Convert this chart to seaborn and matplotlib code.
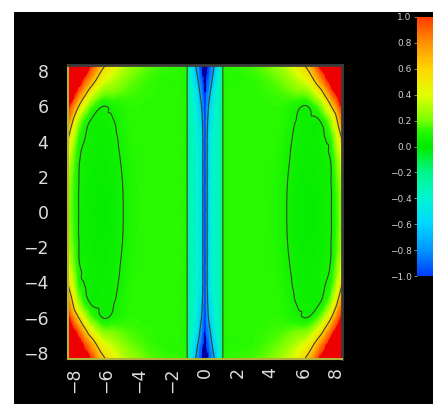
import numpy as np
import matplotlib
matplotlib.use("Agg")
import matplotlib.pyplot as plt
import matplotlib.tri as mtri
from matplotlib.colors import LinearSegmentedColormap, Normalize
from matplotlib.cm import ScalarMappable
from matplotlib.patches import Rectangle
from matplotlib.ticker import MultipleLocator
import seaborn as sns

# Sample nodes of the upper-right quadrant; the field is mirror-symmetric in x and y
x_nodes = [0.0, 0.12, 0.3, 0.55, 0.8, 1.0, 1.1, 1.5, 2.5, 3.5, 4.5, 5.0, 5.5, 6.3, 7.0, 7.35, 7.7, 8.35]
y_nodes = [0.0, 1.5, 3.0, 4.2, 5.2, 6.0, 6.8, 7.5, 8.35]

# Field values, one row per y node (columns follow x_nodes)
field_y0_0 = [-0.95, -0.72, -0.48, -0.38, -0.33, -0.30, 0.10, 0.12, 0.12, 0.12, 0.093, 0.059, 0.035, 0.020, 0.029, 0.042, 0.060, 0.25]
field_y1_5 = [-0.95, -0.72, -0.48, -0.38, -0.33, -0.30, 0.10, 0.12, 0.12, 0.12, 0.096, 0.061, 0.038, 0.023, 0.032, 0.045, 0.062, 0.28]
field_y3_0 = [-0.95, -0.72, -0.48, -0.38, -0.33, -0.30, 0.10, 0.12, 0.12, 0.12, 0.103, 0.069, 0.046, 0.030, 0.040, 0.054, 0.075, 0.40]
field_y4_2 = [-0.95, -0.72, -0.50, -0.39, -0.33, -0.30, 0.10, 0.12, 0.12, 0.12, 0.113, 0.079, 0.052, 0.040, 0.050, 0.064, 0.130, 0.62]
field_y5_2 = [-0.96, -0.76, -0.55, -0.41, -0.34, -0.30, 0.10, 0.12, 0.12, 0.12, 0.120, 0.095, 0.062, 0.048, 0.062, 0.130, 0.300, 0.88]
field_y6_0 = [-0.98, -0.80, -0.62, -0.44, -0.35, -0.30, 0.10, 0.12, 0.12, 0.12, 0.125, 0.110, 0.085, 0.064, 0.200, 0.380, 0.600, 1.08]
field_y6_8 = [-1.00, -0.88, -0.72, -0.49, -0.37, -0.31, 0.10, 0.12, 0.12, 0.13, 0.150, 0.170, 0.200, 0.250, 0.500, 0.700, 0.920, 1.28]
field_y7_5 = [-1.08, -0.96, -0.82, -0.60, -0.42, -0.32, 0.10, 0.11, 0.12, 0.14, 0.190, 0.240, 0.310, 0.460, 0.780, 0.960, 1.150, 1.45]
field_y8_35 = [-1.20, -1.08, -0.92, -0.72, -0.49, -0.33, 0.12, 0.13, 0.14, 0.18, 0.270, 0.340, 0.450, 0.680, 1.050, 1.200, 1.350, 1.60]

contour_levels = [-0.7, 0.06, 0.6]
axis_ticks = [-8, -6, -4, -2, 0, 2, 4, 6, 8]
cbar_ticks = [-1.0, -0.8, -0.6, -0.4, -0.2, 0.0, 0.2, 0.4, 0.6, 0.8, 1.0]

# Rainbow scale: blue (-1) -> cyan -> green (0) -> yellow -> orange-red (+1)
cmap_stops = [
    (0.00, "#003cff"), (0.10, "#0096ff"), (0.20, "#00d7ff"), (0.30, "#00f5d2"),
    (0.40, "#00f58c"), (0.47, "#00f028"), (0.50, "#00eb00"), (0.56, "#28fa00"),
    (0.60, "#78ff00"), (0.70, "#e1ff00"), (0.80, "#ffd700"), (0.90, "#ff9100"),
    (1.00, "#ff3c00"),
]

sns.set_theme(style="dark", rc={"axes.facecolor": "black", "figure.facecolor": "white"})
plt.rcParams["font.family"] = ["DejaVu Sans"]

cmap = LinearSegmentedColormap.from_list("field", cmap_stops)
cmap.set_over("#f00000")
cmap.set_under("#0000a0")
norm = Normalize(vmin=-1.0, vmax=1.0)

# Assemble the full grid by mirroring the quadrant
xq = np.array(x_nodes)
yq = np.array(y_nodes)
zq = np.array([field_y0_0, field_y1_5, field_y3_0, field_y4_2, field_y5_2,
               field_y6_0, field_y6_8, field_y7_5, field_y8_35])
xs = np.concatenate([-xq[:0:-1], xq])
ys = np.concatenate([-yq[:0:-1], yq])
zx = np.hstack([zq[:, :0:-1], zq])
zf = np.vstack([zx[:0:-1], zx])
mid = len(xq) - 1          # column of x = 0
edge = x_nodes.index(1.0)  # strip edge offset from the centre column


def grid_triangulation(xv, yv):
    X, Y = np.meshgrid(xv, yv)
    nx, ny = len(xv), len(yv)
    cells = (np.arange(ny - 1)[:, None] * nx + np.arange(nx - 1)[None, :]).ravel()
    triangles = np.vstack([
        np.column_stack([cells, cells + 1, cells + nx + 1]),
        np.column_stack([cells, cells + nx + 1, cells + nx]),
    ])
    return mtri.Triangulation(X.ravel(), Y.ravel(), triangles)


def draw_block(ax, c0, c1, smooth):
    """Shade and contour the grid columns c0..c1 (inclusive)."""
    tri = grid_triangulation(xs[c0:c1 + 1], ys)
    z = zf[:, c0:c1 + 1].ravel()
    if smooth:
        interp = mtri.CubicTriInterpolator(tri, z, kind="geom")
        tri, z = mtri.UniformTriRefiner(tri).refine_field(z, triinterpolator=interp, subdiv=4)
    ax.tripcolor(tri, z, shading="gouraud", cmap=cmap, norm=norm)
    ax.tricontour(tri, z, levels=contour_levels, colors="#35482a",
                  linewidths=0.8, linestyles="solid")


fig = plt.figure(figsize=(4.33, 4.04), dpi=100)
fig.patch.set_facecolor("white")
fig.add_artist(Rectangle((14 / 433, 0), 1.0, 1 - 12 / 404, transform=fig.transFigure,
                         facecolor="black", edgecolor="none", zorder=-10))

ax = fig.add_axes([68 / 433, 1 - 359 / 404, 274 / 433, 294 / 404])
ax.set_facecolor("black")

# outer side regions, the thin strip edges and the central channel
draw_block(ax, 0, mid - edge - 1, True)
draw_block(ax, mid - edge - 1, mid - edge, False)
draw_block(ax, mid - edge, mid + edge, True)
draw_block(ax, mid + edge, mid + edge + 1, False)
draw_block(ax, mid + edge + 1, len(xs) - 1, True)

ax.set_xlim(-8.35, 8.35)
ax.set_ylim(-8.35, 8.35)
ax.set_xticks(axis_ticks)
ax.set_yticks(axis_ticks)
ax.xaxis.set_minor_locator(MultipleLocator(0.5))
ax.yaxis.set_minor_locator(MultipleLocator(0.5))
ax.grid(False)

frame_col = "#b4b43c"
ax.tick_params(axis="both", which="both", direction="in", color=frame_col,
               labelcolor="#dcdcdc", labelsize=12.5, top=False, right=False)
ax.tick_params(axis="both", which="major", length=4, width=1)
ax.tick_params(axis="both", which="minor", length=2.5, width=0.8)
ax.tick_params(axis="x", which="major", labelrotation=90, pad=6)
ax.tick_params(axis="y", which="major", pad=14)
for side in ("left", "bottom"):
    ax.spines[side].set_color(frame_col)
    ax.spines[side].set_linewidth(1.5)
for side in ("top", "right"):
    ax.spines[side].set_color("#3c3c3c")
    ax.spines[side].set_linewidth(2.0)

cax = fig.add_axes([417 / 433, 1 - 276 / 404, 0.06, (276 - 17) / 404])
cb = fig.colorbar(ScalarMappable(norm=norm, cmap=cmap), cax=cax, ticks=cbar_ticks)
cb.outline.set_visible(False)
cax.yaxis.set_ticks_position("left")
cax.yaxis.set_label_position("left")
cax.tick_params(axis="y", length=2.5, width=0.6, color="#9a9a9a",
                labelcolor="#cfcfcf", labelsize=6.5, pad=1.5)

fig.savefig("out.png", dpi=100, facecolor=fig.get_facecolor())
